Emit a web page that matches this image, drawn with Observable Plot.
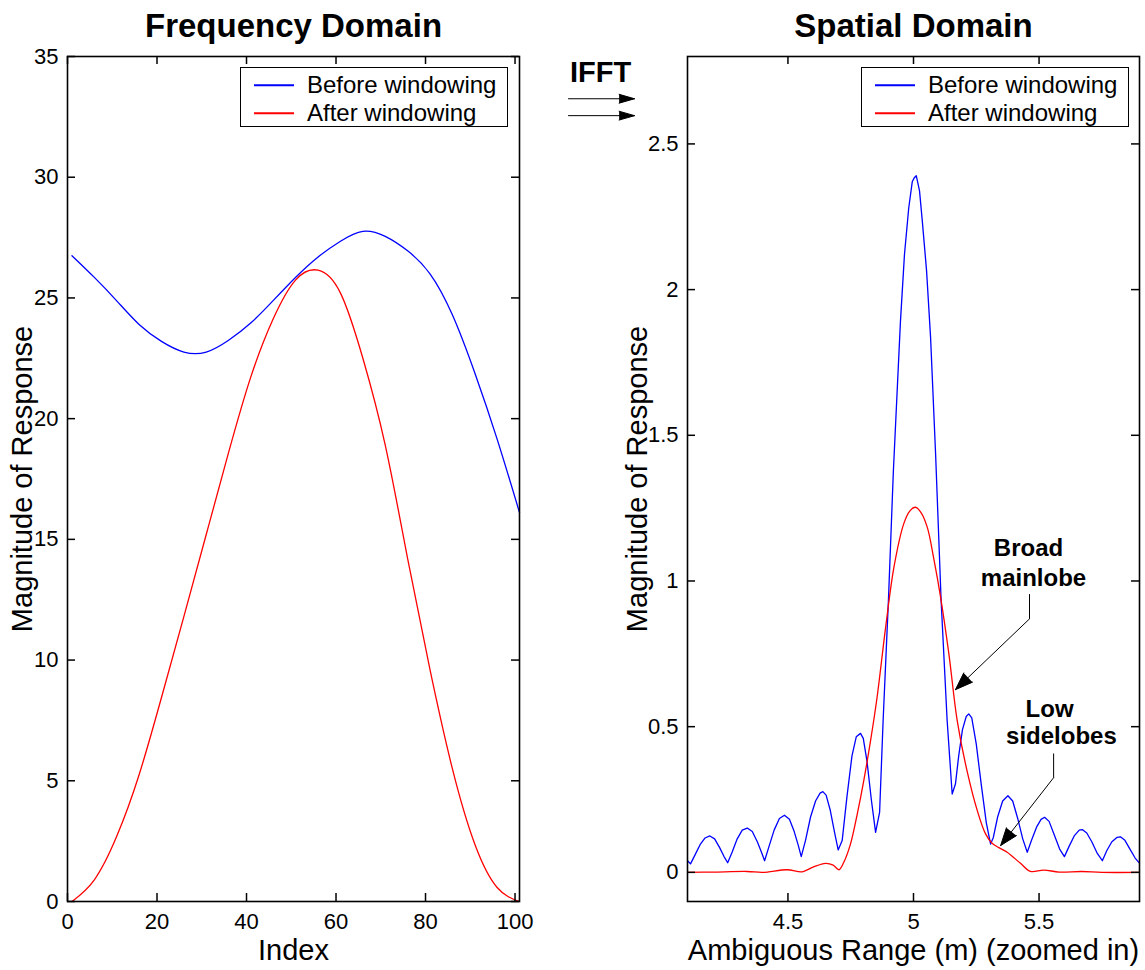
<!DOCTYPE html>
<html>
<head>
<meta charset="utf-8">
<script src="https://cdn.jsdelivr.net/npm/d3@7"></script>
<script src="https://cdn.jsdelivr.net/npm/@observablehq/plot@0.6"></script>
<style>
  html, body { margin: 0; padding: 0; background: #fff; }
  #wrap { position: relative; width: 1145px; height: 970px; font-family: "Liberation Sans", Arial, Helvetica, sans-serif; }
  .panel { position: absolute; top: 0; }
  .legend { position: absolute; box-sizing: border-box; border: 1.5px solid #000; background: #fff; font-size: 24px; color: #000; }
  .legend .sw { position: absolute; height: 1.5px; transform: translateY(-50%); }
  .legend .lbl { position: absolute; line-height: 1; white-space: nowrap; transform: translateY(-50%); }
</style>
</head>
<body>
<div id="wrap"></div>
<script>
// ---------------- Data ----------------
const seriesNames = ["Before windowing", "After windowing"];

// Frequency domain (left panel), read every 5 indices
const freqIndex  = [1, 6, 11, 16, 21, 26, 31, 36, 41, 46, 51, 56, 61, 66, 71, 76, 81, 86, 91, 96, 101];
const freqBefore = [26.75, 25.85, 24.88, 23.9, 23.2, 22.76, 22.76, 23.25, 23.97, 24.9, 25.86, 26.7, 27.35, 27.76, 27.55, 26.95, 26.0, 24.3, 21.9, 19.15, 16.11];
const freqAfter  = [0, 0.9, 2.7, 5.25, 8.45, 11.8, 15.2, 18.6, 21.75, 24.15, 25.75, 26.15, 25.2, 22.5, 18.9, 14.2, 9.6, 5.5, 2.38, 0.58, 0];

// Spatial domain (right panel)
const spatialBeforeX = [4.100, 4.112, 4.130, 4.150, 4.170, 4.189, 4.208, 4.228, 4.245, 4.260, 4.278, 4.298, 4.318, 4.338, 4.358, 4.378, 4.395, 4.407, 4.425, 4.445, 4.466, 4.486, 4.506, 4.525, 4.542, 4.553, 4.570, 4.590, 4.610, 4.628, 4.639, 4.652, 4.668, 4.685, 4.700, 4.716, 4.735, 4.755, 4.772, 4.789, 4.800, 4.815, 4.832, 4.849, 4.865, 4.879, 4.900, 4.920, 4.948, 4.964, 4.981, 4.995, 5.004, 5.011, 5.024, 5.035, 5.052, 5.068, 5.088, 5.110, 5.134, 5.154, 5.167, 5.180, 5.195, 5.210, 5.220, 5.232, 5.250, 5.270, 5.290, 5.307, 5.318, 5.335, 5.355, 5.376, 5.395, 5.415, 5.435, 5.453, 5.470, 5.490, 5.508, 5.522, 5.540, 5.560, 5.582, 5.601, 5.620, 5.640, 5.660, 5.672, 5.690, 5.710, 5.732, 5.752, 5.770, 5.790, 5.810, 5.824, 5.842, 5.862, 5.882, 5.897];
const spatialBeforeY = [0.040, 0.029, 0.060, 0.095, 0.118, 0.125, 0.115, 0.085, 0.055, 0.033, 0.070, 0.115, 0.145, 0.152, 0.140, 0.105, 0.068, 0.040, 0.090, 0.145, 0.185, 0.196, 0.182, 0.140, 0.090, 0.054, 0.110, 0.190, 0.245, 0.272, 0.277, 0.265, 0.215, 0.140, 0.077, 0.109, 0.260, 0.400, 0.465, 0.477, 0.460, 0.380, 0.250, 0.137, 0.206, 0.520, 0.930, 1.380, 1.890, 2.120, 2.280, 2.370, 2.385, 2.391, 2.339, 2.236, 2.065, 1.836, 1.436, 0.932, 0.521, 0.269, 0.303, 0.400, 0.490, 0.535, 0.544, 0.530, 0.440, 0.300, 0.170, 0.097, 0.120, 0.190, 0.245, 0.263, 0.245, 0.185, 0.115, 0.069, 0.110, 0.155, 0.182, 0.189, 0.175, 0.130, 0.080, 0.054, 0.090, 0.125, 0.145, 0.147, 0.135, 0.105, 0.065, 0.040, 0.075, 0.105, 0.120, 0.122, 0.110, 0.080, 0.050, 0.034];
const spatialAfterX = [4.100, 4.200, 4.338, 4.400, 4.497, 4.557, 4.600, 4.650, 4.680, 4.703, 4.722, 4.749, 4.776, 4.802, 4.829, 4.855, 4.889, 4.922, 4.961, 4.985, 5.008, 5.030, 5.055, 5.080, 5.108, 5.141, 5.174, 5.213, 5.254, 5.287, 5.313, 5.340, 5.373, 5.426, 5.466, 5.519, 5.580, 5.670, 5.750, 5.900];
const spatialAfterY = [0.000, 0.001, 0.003, 0.000, 0.009, 0.002, 0.018, 0.031, 0.025, 0.009, 0.034, 0.097, 0.200, 0.315, 0.452, 0.601, 0.841, 1.047, 1.196, 1.240, 1.253, 1.235, 1.184, 1.080, 0.944, 0.749, 0.521, 0.349, 0.212, 0.132, 0.100, 0.085, 0.069, 0.031, 0.003, 0.008, 0.001, 0.003, 0.000, 0.000];

// Tick values
const freqXTicks = [0, 20, 40, 60, 80, 100];
const freqYTicks = [0, 5, 10, 15, 20, 25, 30, 35];
const spatialXTicks = [4.5, 5, 5.5];
const spatialYTicks = [0, 0.5, 1, 1.5, 2, 2.5];

// Annotations (right panel, data coordinates)
const noteTexts = [
  {text: "Broad", x: 5.458, y: 1.111},
  {text: "mainlobe", x: 5.478, y: 1.010},
  {text: "Low", x: 5.542, y: 0.561},
  {text: "sidelobes", x: 5.589, y: 0.468}
];
const noteStems = [
  {x1: 5.462, y1: 0.955, x2: 5.462, y2: 0.870},
  {x1: 5.558, y1: 0.408, x2: 5.558, y2: 0.325}
];
const noteArrows = [
  {x1: 5.462, y1: 0.870, x2: 5.167, y2: 0.627},
  {x1: 5.558, y1: 0.325, x2: 5.347, y2: 0.092}
];
const ifftText = [{text: "IFFT", x: 3.7535, y: 2.744}];
const ifftArrows = [
  {x1: 3.626, y1: 2.655, x2: 3.889, y2: 2.655},
  {x1: 3.626, y1: 2.597, x2: 3.889, y2: 2.597}
];

// ---------------- Drawing ----------------
const BLUE = "#0000ff", RED = "#ff0000";
const FONT = "Liberation Sans, Arial, Helvetica, sans-serif";
const fmt = d => String(d);
const H = 970, MT = 56, MB = 69;
const FH = H - MT - MB;          // frame height
const TICK = 8;

const freqRows = freqIndex.map((x, i) => ({x, before: freqBefore[i], after: freqAfter[i]}));
const spB = spatialBeforeX.map((x, i) => ({x, y: spatialBeforeY[i]}));
const spA = spatialAfterX.map((x, i) => ({x, y: spatialAfterY[i]}));

function axes(xTicks, yTicks, FW) {
  const tk = {stroke: "black", strokeWidth: 1.5};
  return [
    Plot.tickX(xTicks, {x: d => d, insetTop: FH - TICK, ...tk}),
    Plot.tickX(xTicks, {x: d => d, insetBottom: FH - TICK, ...tk}),
    Plot.tickY(yTicks, {y: d => d, insetRight: FW - TICK, ...tk}),
    Plot.tickY(yTicks, {y: d => d, insetLeft: FW - TICK, ...tk}),
    Plot.frame({stroke: "black", strokeWidth: 1.6}),
    Plot.axisX(xTicks, {anchor: "bottom", tickSize: 0, tickPadding: 12, tickFormat: fmt, label: null, fontSize: 22}),
    Plot.axisY(yTicks, {anchor: "left", tickSize: 0, tickPadding: 9, tickFormat: fmt, label: null, fontSize: 22})
  ];
}

function labels(title, xLabel, yLabel, yOff) {
  return [
    Plot.text([title], {frameAnchor: "top", lineAnchor: "middle", dy: -30, fontSize: 33, fontWeight: "bold", fill: "black"}),
    Plot.text([xLabel], {frameAnchor: "bottom", lineAnchor: "middle", dy: 49, fontSize: 29, fill: "black"}),
    Plot.text([yLabel], {frameAnchor: "left", textAnchor: "middle", lineAnchor: "middle", dx: -yOff, rotate: -90, fontSize: 29, fill: "black"})
  ];
}

const left = Plot.plot({
  width: 560, height: H,
  marginTop: MT, marginBottom: MB, marginLeft: 67, marginRight: 41,
  style: {fontFamily: FONT, fontSize: "22px", color: "black", background: "transparent", overflow: "visible"},
  x: {domain: [0, 101]},
  y: {domain: [0, 35]},
  marks: [
    Plot.line(freqRows, {x: "x", y: "before", stroke: BLUE, strokeWidth: 1.3, curve: "natural"}),
    Plot.line(freqRows, {x: "x", y: "after", stroke: RED, strokeWidth: 1.3, curve: "natural"}),
    ...axes(freqXTicks, freqYTicks, 560 - 67 - 41),
    ...labels("Frequency Domain", "Index", "Magnitude of Response", 45)
  ]
});

const right = Plot.plot({
  width: 585, height: H,
  marginTop: MT, marginBottom: MB, marginLeft: 127, marginRight: 6,
  style: {fontFamily: FONT, fontSize: "22px", color: "black", background: "transparent", overflow: "visible"},
  x: {domain: [4.1, 5.9]},
  y: {domain: [-0.1, 2.8]},
  marks: [
    Plot.line(spB, {x: "x", y: "y", stroke: BLUE, strokeWidth: 1.3}),
    Plot.line(spA, {x: "x", y: "y", stroke: RED, strokeWidth: 1.3, curve: "catmull-rom"}),
    Plot.link(noteStems, {x1: "x1", y1: "y1", x2: "x2", y2: "y2", stroke: "black", strokeWidth: 1}),
    Plot.arrow(noteArrows, {x1: "x1", y1: "y1", x2: "x2", y2: "y2", stroke: "black", fill: "black", strokeWidth: 1, headLength: 28, headAngle: 40}),
    Plot.text(noteTexts, {x: "x", y: "y", text: "text", fontSize: 24, fontWeight: "bold", fill: "black"}),
    Plot.text(ifftText, {x: "x", y: "y", text: "text", fontSize: 29, fontWeight: "bold", fill: "black"}),
    Plot.arrow(ifftArrows, {x1: "x1", y1: "y1", x2: "x2", y2: "y2", stroke: "black", fill: "black", strokeWidth: 1, headLength: 24, headAngle: 32}),
    ...axes(spatialXTicks, spatialYTicks, 585 - 127 - 6),
    ...labels("Spatial Domain", "Ambiguous Range (m) (zoomed in)", "Magnitude of Response", 50)
  ]
});

const wrap = document.getElementById("wrap");
left.classList.add("panel"); left.style.left = "0px";
right.classList.add("panel"); right.style.left = "560px";
wrap.appendChild(left);
wrap.appendChild(right);

// Legends (HTML, positioned over each panel)
const seriesColors = [BLUE, RED];
function addLegend(boxLeft) {
  const box = document.createElement("div");
  box.className = "legend";
  Object.assign(box.style, {left: boxLeft + "px", top: "67px", width: "268px", height: "60px"});
  seriesNames.forEach((name, i) => {
    const cy = 17 + i * 28;
    const sw = document.createElement("div");
    sw.className = "sw";
    Object.assign(sw.style, {left: "13px", width: "40px", top: cy + "px", background: seriesColors[i]});
    const lb = document.createElement("div");
    lb.className = "lbl";
    lb.textContent = name;
    Object.assign(lb.style, {left: "66px", top: cy + "px"});
    box.appendChild(sw); box.appendChild(lb);
  });
  wrap.appendChild(box);
}
addLegend(240);
addLegend(861);
</script>
</body>
</html>
